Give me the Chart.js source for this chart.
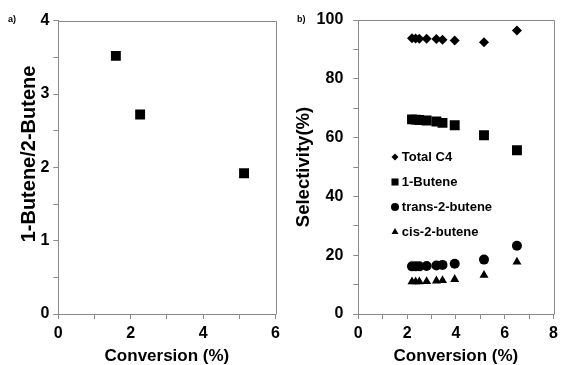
<!DOCTYPE html>
<html><head><meta charset="utf-8">
<script src="https://cdn.jsdelivr.net/npm/chart.js@4/dist/chart.umd.min.js"></script>
<style>
html,body{margin:0;padding:0;background:#fff;}
#wrap{position:relative;width:563px;height:365px;overflow:hidden;background:#fff;}
#ca{position:absolute;left:0;top:0;width:285px;height:365px;}
#cb{position:absolute;left:285px;top:0;width:278px;height:365px;}
.pl{position:absolute;font:bold 9px "Liberation Sans",Arial,sans-serif;color:#000;line-height:10px;}
</style></head><body>
<div id="wrap">
<canvas id="ca" width="285" height="365"></canvas>
<canvas id="cb" width="278" height="365"></canvas>
<div class="pl" style="left:8px;top:14px">a)</div>
<div class="pl" style="left:297px;top:14px">b)</div>
</div>
<script>
// ---- Data ----
const convA = [1.59, 2.26, 5.13];
const ratioA = [3.52, 2.72, 1.92];

const convB = [2.2, 2.35, 2.5, 2.8, 3.2, 3.45, 3.95, 5.15, 6.5];
const totalC4 = [93.8, 93.7, 93.6, 93.6, 93.5, 93.3, 93.0, 92.4, 96.4];
const butene1 = [66.2, 66.1, 66.0, 65.8, 65.5, 65.0, 64.2, 60.8, 55.7];
const trans2 = [16.2, 16.2, 16.2, 16.3, 16.5, 16.7, 17.1, 18.5, 23.2];
const cis2 = [11.0, 11.0, 11.0, 11.1, 11.3, 11.4, 11.8, 13.2, 17.7];
const seriesLabels = ['Total C4', '1-Butene', 'trans-2-butene', 'cis-2-butene'];

const xLabelsA = [0, 2, 4, 6];
const yLabelsA = [0, 1, 2, 3, 4];
const xLabelsB = [0, 2, 4, 6, 8];
const yLabelsB = [0, 20, 40, 60, 80, 100];

// ---- Styling ----
Chart.defaults.font.family = '"Liberation Sans", Arial, Helvetica, sans-serif';
Chart.defaults.color = '#000';
const AXIS = '#8a8a8a';
const tickFont = {size: 16, weight: 'bold'};
const titleFont = {size: 17, weight: 'bold', lineHeight: 1};

const pts = (xs, ys) => xs.map((x, i) => ({x: x, y: ys[i]}));
const near = (arr, v) => arr.some(a => Math.abs(a - v) < 1e-6);

const framePlugin = {
  id: 'frame',
  beforeDatasetsDraw(chart) {
    const {ctx, chartArea: a} = chart;
    ctx.save();
    ctx.strokeStyle = AXIS;
    ctx.lineWidth = 1;
    const l = Math.round(a.left) + 0.5, t = Math.round(a.top) + 0.5;
    const r = Math.round(a.right) + 0.5, b = Math.round(a.bottom) + 0.5;
    ctx.beginPath();
    ctx.moveTo(l, t); ctx.lineTo(r, t); ctx.lineTo(r, b);
    ctx.stroke();
    ctx.restore();
  }
};

// y-axis title drawn as rotated text at a chosen centre
function yTitlePlugin(text, size, cx, cy) {
  return {
    id: 'ytitle',
    afterDraw(chart) {
      const ctx = chart.ctx;
      ctx.save();
      ctx.translate(cx, cy);
      ctx.rotate(-Math.PI / 2);
      ctx.fillStyle = '#000';
      ctx.font = 'bold ' + size + 'px "Liberation Sans", Arial, sans-serif';
      ctx.textAlign = 'center';
      ctx.textBaseline = 'middle';
      ctx.fillText(text, 0, 0);
      ctx.restore();
    }
  };
}

function axis(opts) {
  return {
    type: 'linear',
    min: opts.min, max: opts.max,
    ticks: {
      stepSize: opts.step,
      autoSkip: false,
      padding: opts.pad,
      font: tickFont,
      color: '#000',
      callback: v => near(opts.labels, v) ? String(v) : ''
    },
    grid: {display: true, drawOnChartArea: false, drawTicks: true, tickLength: 5, color: AXIS, lineWidth: 1},
    border: {display: true, color: AXIS, width: 1},
    title: {display: opts.showTitle !== false, text: opts.title, font: opts.tfont || titleFont, color: '#000', padding: opts.tpad},
    afterFit: opts.fit
  };
}

new Chart(document.getElementById('ca'), {
  type: 'scatter',
  data: {
    datasets: [{
      label: '1-Butene/2-Butene',
      data: pts(convA, ratioA),
      pointStyle: 'rect', pointRadius: 7, pointBorderWidth: 0,
      backgroundColor: '#000', borderColor: '#000'
    }]
  },
  options: {
    responsive: false, animation: false, events: [],
    layout: {padding: {left: 0, top: 20.7, right: 6.7, bottom: 0}},
    plugins: {legend: {display: false}, tooltip: {enabled: false}},
    scales: {
      x: axis({min: 0, max: 6, step: 1, labels: xLabelsA, pad: 5, title: 'Conversion (%)',
        tpad: {top: 0, bottom: 0}, fit: s => { s.height = 51; }}),
      y: axis({min: 0, max: 4, step: 0.5, labels: yLabelsA, pad: 4, title: '1-Butene/2-Butene', showTitle: false,
        tpad: {top: 21.5, bottom: 0}, fit: s => { s.width = 58.3; }})
    }
  },
  plugins: [framePlugin, yTitlePlugin('1-Butene/2-Butene', 20, 29.5, 154)]
});

const legendRows = [137, 162, 187, 212];
const legendRadius = [3.5, 5, 4, 4];
function drawMarker(ctx, style, r, x, y) {
  ctx.beginPath();
  if (style === 'rectRot') {
    ctx.moveTo(x, y - r); ctx.lineTo(x + r, y); ctx.lineTo(x, y + r); ctx.lineTo(x - r, y); ctx.closePath();
  } else if (style === 'rect') {
    const s = r * Math.SQRT1_2; ctx.rect(x - s, y - s, 2 * s, 2 * s);
  } else if (style === 'triangle') {
    ctx.moveTo(x, y - r);
    ctx.lineTo(x + Math.sin(2 * Math.PI / 3) * r, y - Math.cos(2 * Math.PI / 3) * r);
    ctx.lineTo(x + Math.sin(4 * Math.PI / 3) * r, y - Math.cos(4 * Math.PI / 3) * r);
    ctx.closePath();
  } else {
    ctx.arc(x, y, r, 0, Math.PI * 2);
  }
  ctx.fill();
}
const legendPlugin = {
  id: 'inlegend',
  afterDraw(chart) {
    const {ctx, chartArea: a} = chart;
    ctx.save();
    ctx.fillStyle = '#000';
    ctx.font = 'bold 13px "Liberation Sans", Arial, sans-serif';
    ctx.textBaseline = 'middle';
    ctx.textAlign = 'left';
    chart.data.datasets.forEach((ds, i) => {
      const y = a.top + legendRows[i];
      drawMarker(ctx, ds.pointStyle, legendRadius[i], a.left + 36.7, y);
      ctx.fillText(ds.label, a.left + 43.5, y + 0.5);
    });
    ctx.restore();
  }
};

const mk = (label, ys, style, r) => ({
  label: label, data: pts(convB, ys), pointStyle: style, pointRadius: r, pointBorderWidth: 0,
  backgroundColor: '#000', borderColor: '#000'
});

new Chart(document.getElementById('cb'), {
  type: 'scatter',
  data: {
    datasets: [
      mk(seriesLabels[0], totalC4, 'rectRot', 5),
      mk(seriesLabels[1], butene1, 'rect', 7),
      mk(seriesLabels[2], trans2, 'circle', 5),
      mk(seriesLabels[3], cis2, 'triangle', 5.2)
    ]
  },
  options: {
    responsive: false, animation: false, events: [],
    layout: {padding: {left: 0, top: 20, right: 4.7, bottom: 0}},
    plugins: {legend: {display: false}, tooltip: {enabled: false}},
    scales: {
      x: axis({min: 0, max: 8, step: 1, labels: xLabelsB, pad: 5, title: 'Conversion (%)',
        tpad: {top: 0, bottom: 0}, fit: s => { s.height = 51; }}),
      y: axis({min: 0, max: 100, step: 10, labels: yLabelsB, pad: 10, title: 'Selectivity(%)',
        tfont: {size: 18.5, weight: 'bold', lineHeight: 1},
        tpad: {top: 9.75, bottom: 0}, fit: s => { s.width = 73.3; }})
    }
  },
  plugins: [framePlugin, legendPlugin]
});
</script>
</body></html>
